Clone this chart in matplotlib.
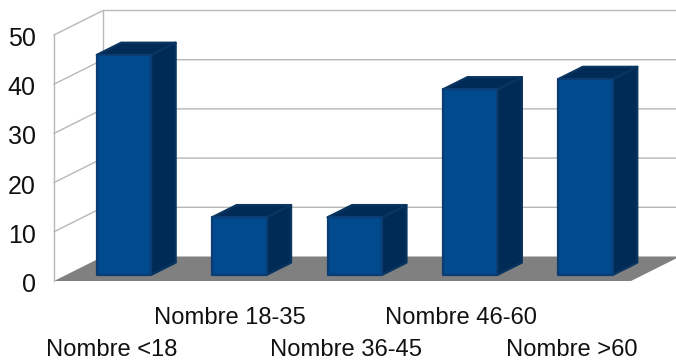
import matplotlib
matplotlib.use("Agg")
import matplotlib.pyplot as plt
from matplotlib.patches import Polygon

plt.rcParams['font.family'] = ['Liberation Sans', 'DejaVu Sans']

# datos de las barras
categorias = ['Nombre <18', 'Nombre 18-35', 'Nombre 36-45', 'Nombre 46-60', 'Nombre >60']
valores = [44.7, 11.7, 11.7, 37.7, 39.8]
ticks_y = [0, 10, 20, 30, 40, 50]

W, H = 676, 360
# plano frontal del grafico en pixeles
X0, X1, Y0, Y1 = 54, 631, 281, 35
# centro de cada etiqueta del eje x, en pixeles
ETIQ_X = [111.5, 229.5, 345.5, 461, 571.5]

fig = plt.figure(figsize=(W / 100, H / 100), dpi=100)
ax = fig.add_axes([X0 / W, 1 - Y0 / H, (X1 - X0) / W, (Y0 - Y1) / H])
ax.set_xlim(0, len(categorias))
ax.set_ylim(0, 50)
ax.axis('off')

# desplazamiento de profundidad en unidades de datos
DX = 49 / ((X1 - X0) / len(categorias))
DY = 24.5 / ((Y0 - Y1) / 50)
ANCHO = 0.472


def proy(x, v, d):
    # proyecta un punto (x, valor, profundidad) sobre el plano frontal
    return (x + d * DX, v + d * DY)


def poli(puntos, color, z, borde=None, lw=0):
    p = Polygon(puntos, closed=True, facecolor=color, edgecolor=borde or color,
                linewidth=lw, joinstyle='round', clip_on=False, zorder=z)
    ax.add_patch(p)


n = len(categorias)

# suelo gris
poli([proy(0, 0, 0), proy(n, 0, 0), proy(n, 0, 1), proy(0, 0, 1)], '#808080', 1)

# rejilla de la pared lateral y del fondo
for t in ticks_y[1:]:
    a, b, c = proy(0, t, 0), proy(0, t, 1), proy(n, t, 1)
    ax.plot([a[0], b[0], c[0]], [a[1], b[1], c[1]], color='#b8b8b8', lw=1.0,
            clip_on=False, zorder=2, solid_joinstyle='miter')
a, b = proy(0, 0, 0), proy(0, 50, 0)
ax.plot([a[0], b[0]], [a[1], b[1]], color='#b8b8b8', lw=1.0, clip_on=False, zorder=2)
a, b = proy(0, 0, 1), proy(0, 50, 1)
ax.plot([a[0], b[0]], [a[1], b[1]], color='#b8b8b8', lw=1.0, clip_on=False, zorder=2)

# barras con cara lateral, superior y frontal
for i, v in enumerate(valores):
    x1 = i + 0.5 - ANCHO / 2
    x2 = i + 0.5 + ANCHO / 2
    d1, d2 = 0.25, 0.75
    poli([proy(x2, 0, d1), proy(x2, 0, d2), proy(x2, v, d2), proy(x2, v, d1)],
         '#002B57', 3, '#0A3560', 1.6)
    poli([proy(x1, v, d1), proy(x2, v, d1), proy(x2, v, d2), proy(x1, v, d2)],
         '#002B57', 3, '#0A3560', 1.6)
    poli([proy(x1, 0, d1), proy(x2, 0, d1), proy(x2, v, d1), proy(x1, v, d1)],
         '#004A8D', 4, '#0B3D73', 1.6)

# etiquetas del eje y
for t in ticks_y:
    ax.text(-0.16, t - 0.8, str(t), ha='right', va='center', fontsize=18,
            color='#111111', clip_on=False)

# etiquetas del eje x en dos filas alternas
for i, c in enumerate(categorias):
    fila = 350.5 if i % 2 == 0 else 318.5
    fig.text(ETIQ_X[i] / W, 1 - fila / H, c, ha='center', va='center',
             fontsize=17.1, color='#111111')

fig.savefig('out.png', dpi=100)
